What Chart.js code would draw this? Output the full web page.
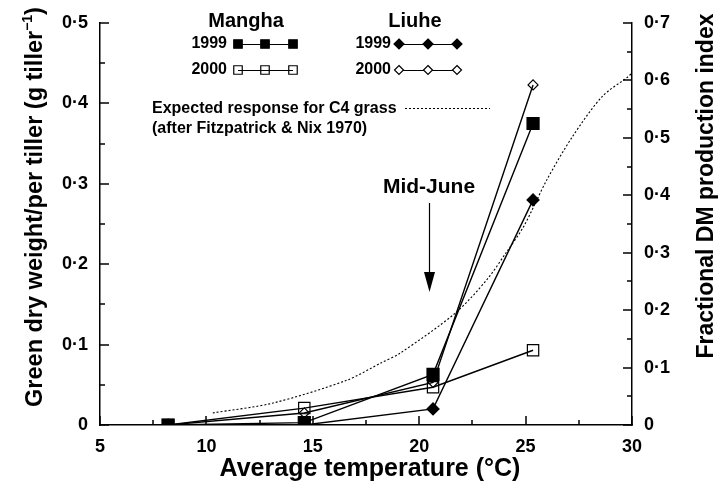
<!DOCTYPE html>
<html><head><meta charset="utf-8">
<script src="https://cdn.jsdelivr.net/npm/chart.js@4/dist/chart.umd.min.js"></script>
<style>html,body{margin:0;padding:0;background:#fff}#wrap{width:718px;height:491px;position:relative}</style>
</head><body><div id="wrap"><canvas id="c" width="718" height="491"></canvas></div>
<script>
// ---- data ----
const temperatures = [8.2, 14.6, 20.65, 25.35];
const mangha1999 = [0, 0.003, 0.063, 0.375];
const mangha2000 = [0, 0.021, 0.047, 0.093];
const liuhe1999 = [0, 0, 0.02, 0.28];
const liuhe2000 = [0, 0.015, 0.053, 0.423];
const c4Temperature = [10.3, 13.1, 16.6, 18.2, 19.1, 21.7, 23.2, 24.1, 24.9, 26.0, 27.2, 28.6, 29.8, 30.0];
const c4Index = [0.021, 0.038, 0.078, 0.108, 0.125, 0.195, 0.254, 0.301, 0.345, 0.427, 0.502, 0.572, 0.606, 0.613];
const xTicks = [5, 10, 15, 20, 25, 30];
const leftTicks = [0, 0.1, 0.2, 0.3, 0.4, 0.5];
const rightTicks = [0, 0.1, 0.2, 0.3, 0.4, 0.5, 0.6, 0.7];

const FONT = '"Liberation Sans", Arial, Helvetica, sans-serif';
const fmt = v => (Math.abs(v) < 1e-9 ? '0' : (Math.round(v * 10) / 10).toFixed(1).replace('.', '\u00B7'));
const pts = ys => temperatures.map((t, i) => ({x: t, y: ys[i]}));

function marker(ctx, style, filled, x, y, r) {
  ctx.save();
  ctx.beginPath();
  if (style === 'rect') {
    const s = r * Math.SQRT1_2;
    ctx.rect(x - s, y - s, 2 * s, 2 * s);
  } else {
    ctx.moveTo(x, y - r); ctx.lineTo(x + r, y); ctx.lineTo(x, y + r); ctx.lineTo(x - r, y); ctx.closePath();
  }
  ctx.lineWidth = 1.2;
  ctx.strokeStyle = '#000';
  ctx.fillStyle = filled ? '#000' : '#fff';
  ctx.fill();
  ctx.stroke();
  ctx.restore();
}

function drawTicks(chart) {
  const ctx = chart.ctx;
  const xs = chart.scales.x, yl = chart.scales.y, yr = chart.scales.y2;
  const a = chart.chartArea;
  ctx.save();
  ctx.setLineDash([]);
  ctx.strokeStyle = '#000';
  ctx.lineWidth = 1.5;
  for (let i = 0; i <= 10; i++) {
    const px = Math.round(xs.getPixelForValue(5 + i * 2.5));
    const len = i % 2 === 0 ? 9 : 5;
    ctx.beginPath(); ctx.moveTo(px, a.bottom); ctx.lineTo(px, a.bottom - len); ctx.stroke();
  }
  for (let i = 0; i <= 10; i++) {
    const py = Math.round(yl.getPixelForValue(i * 0.05));
    const len = i % 2 === 0 ? 9 : 5;
    ctx.beginPath(); ctx.moveTo(a.left, py); ctx.lineTo(a.left + len, py); ctx.stroke();
  }
  for (let i = 0; i <= 14; i++) {
    const py = Math.round(yr.getPixelForValue(i * 0.05));
    const len = i % 2 === 0 ? 9 : 5;
    ctx.beginPath(); ctx.moveTo(a.right, py); ctx.lineTo(a.right - len, py); ctx.stroke();
  }
  ctx.restore();
}

const decor = {
  id: 'decor',
  afterDraw(chart) {
    const ctx = chart.ctx;
    drawTicks(chart);
    ctx.save();
    ctx.strokeStyle = '#000';
    ctx.fillStyle = '#000';

    // axis titles
    ctx.textBaseline = 'middle';
    ctx.font = 'bold 25px ' + FONT;
    ctx.textAlign = 'center';
    ctx.fillText('Average temperature (\u00B0C)', 370, 469);

    ctx.save();
    ctx.font = 'bold 23px ' + FONT;
    ctx.translate(707, 186);
    ctx.rotate(-Math.PI / 2);
    ctx.fillText('Fractional DM production index', 0, 0);
    ctx.restore();

    ctx.save();
    ctx.translate(36, 207);
    ctx.rotate(-Math.PI / 2);
    const main = 'Green dry weight/per tiller (g tiller';
    const sup = '\u22121';
    const tail = ')';
    const big = 'bold 23.5px ' + FONT, small = 'bold 14px ' + FONT;
    ctx.font = big;
    const w1 = ctx.measureText(main).width, w3 = ctx.measureText(tail).width;
    ctx.font = small;
    const w2 = ctx.measureText(sup).width;
    const x0 = -(w1 + w2 + w3) / 2;
    ctx.textAlign = 'left';
    ctx.font = big;
    ctx.fillText(main, x0, 0);
    ctx.font = small;
    ctx.fillText(sup, x0 + w1, -8);
    ctx.font = big;
    ctx.fillText(tail, x0 + w1 + w2, 0);
    ctx.restore();

    // legend
    ctx.textAlign = 'center';
    ctx.font = 'bold 20px ' + FONT;
    ctx.fillText('Mangha', 246, 21);
    ctx.fillText('Liuhe', 415, 21);
    ctx.font = 'bold 16px ' + FONT;
    ctx.textAlign = 'right';
    ctx.fillText('1999', 227, 44);
    ctx.fillText('2000', 227, 70);
    ctx.fillText('1999', 391, 44);
    ctx.fillText('2000', 391, 70);
    const rows = [
      {xs: [238, 265, 293], y: 44, style: 'rect', filled: true, r: 6},
      {xs: [238, 265, 293], y: 70, style: 'rect', filled: false, r: 6},
      {xs: [399, 428, 457], y: 44, style: 'diamond', filled: true, r: 5},
      {xs: [399, 428, 457], y: 70, style: 'diamond', filled: false, r: 4.5}
    ];
    rows.forEach(rw => {
      ctx.beginPath(); ctx.lineWidth = 1.2;
      ctx.moveTo(rw.xs[0], rw.y + 0.5); ctx.lineTo(rw.xs[2], rw.y + 0.5); ctx.stroke();
      rw.xs.forEach(px => {
        if (rw.style === 'rect' && !rw.filled) {
          ctx.save(); ctx.beginPath(); const s = rw.r * Math.SQRT1_2;
          ctx.rect(px - s, rw.y - s, 2 * s, 2 * s); ctx.lineWidth = 1.2; ctx.stroke(); ctx.restore();
        } else marker(ctx, rw.style, rw.filled, px, rw.y, rw.r);
      });
    });
    ctx.textAlign = 'left';
    ctx.font = 'bold 16px ' + FONT;
    ctx.fillText('Expected response for C4 grass', 152, 109);
    ctx.fillText('(after Fitzpatrick & Nix 1970)', 152, 129);
    ctx.save();
    ctx.beginPath(); ctx.setLineDash([2, 2]); ctx.lineWidth = 1;
    ctx.moveTo(405, 108.5); ctx.lineTo(490, 108.5); ctx.stroke();
    ctx.restore();

    // Mid-June annotation
    ctx.textAlign = 'center';
    ctx.font = 'bold 21px ' + FONT;
    ctx.fillText('Mid-June', 429, 187);
    ctx.beginPath(); ctx.lineWidth = 1.2;
    ctx.moveTo(429.5, 203); ctx.lineTo(429.5, 276); ctx.stroke();
    ctx.beginPath();
    ctx.moveTo(424, 272); ctx.lineTo(435, 272); ctx.lineTo(429.5, 292); ctx.closePath(); ctx.fill();
    ctx.restore();
  }
};

const lineDs = (label, ys, style, filled, r) => ({
  label, data: pts(ys), yAxisID: 'y',
  borderColor: '#000', borderWidth: 1.4, tension: 0, fill: false,
  pointStyle: style, pointRadius: r, pointHoverRadius: r,
  pointBackgroundColor: filled ? '#000' : 'rgba(255,255,255,0)',
  pointBorderColor: '#000', pointBorderWidth: 1.2
});

new Chart(document.getElementById('c'), {
  type: 'line',
  data: {
    datasets: [
      lineDs('Mangha 1999', mangha1999, 'rect', true, 8.5),
      lineDs('Mangha 2000', mangha2000, 'rect', false, 8),
      lineDs('Liuhe 1999', liuhe1999, 'rectRot', true, 6),
      lineDs('Liuhe 2000', liuhe2000, 'rectRot', false, 5),
      {
        label: 'Expected response for C4 grass', data: c4Temperature.map((t, i) => ({x: t, y: c4Index[i]})),
        yAxisID: 'y2', borderColor: '#000', borderWidth: 1.1, borderDash: [2, 2],
        pointRadius: 0, tension: 0.3, fill: false
      }
    ]
  },
  options: {
    responsive: false, animation: false, devicePixelRatio: 1,
    layout: {padding: {top: 23, left: 0, right: 0, bottom: 0}},
    plugins: {legend: {display: false}, tooltip: {enabled: false}},
    scales: {
      x: {
        type: 'linear', min: 5, max: 30,
        afterBuildTicks: s => { s.ticks = xTicks.map(v => ({value: v})); },
        afterFit: s => { s.height = 66; },
        grid: {display: true, drawOnChartArea: false, drawTicks: false},
        border: {display: true, color: '#000', width: 1.5},
        ticks: {padding: 11, color: '#000', font: {family: FONT, size: 18, weight: 'bold'}, callback: v => String(v), maxRotation: 0}
      },
      y: {
        type: 'linear', position: 'left', min: 0, max: 0.5,
        afterBuildTicks: s => { s.ticks = leftTicks.map(v => ({value: v})); },
        afterFit: s => { s.width = 100; },
        grid: {display: true, drawOnChartArea: false, drawTicks: false},
        border: {display: true, color: '#000', width: 1.5},
        ticks: {padding: 12, color: '#000', font: {family: FONT, size: 18, weight: 'bold'}, callback: v => fmt(v)}
      },
      y2: {
        type: 'linear', position: 'right', min: 0, max: 0.7,
        afterBuildTicks: s => { s.ticks = rightTicks.map(v => ({value: v})); },
        afterFit: s => { s.width = 86; },
        grid: {display: true, drawOnChartArea: false, drawTicks: false},
        border: {display: true, color: '#000', width: 1.5},
        ticks: {padding: 12, color: '#000', font: {family: FONT, size: 18, weight: 'bold'}, callback: v => fmt(v)}
      }
    }
  },
  plugins: [decor]
});
</script></body></html>
